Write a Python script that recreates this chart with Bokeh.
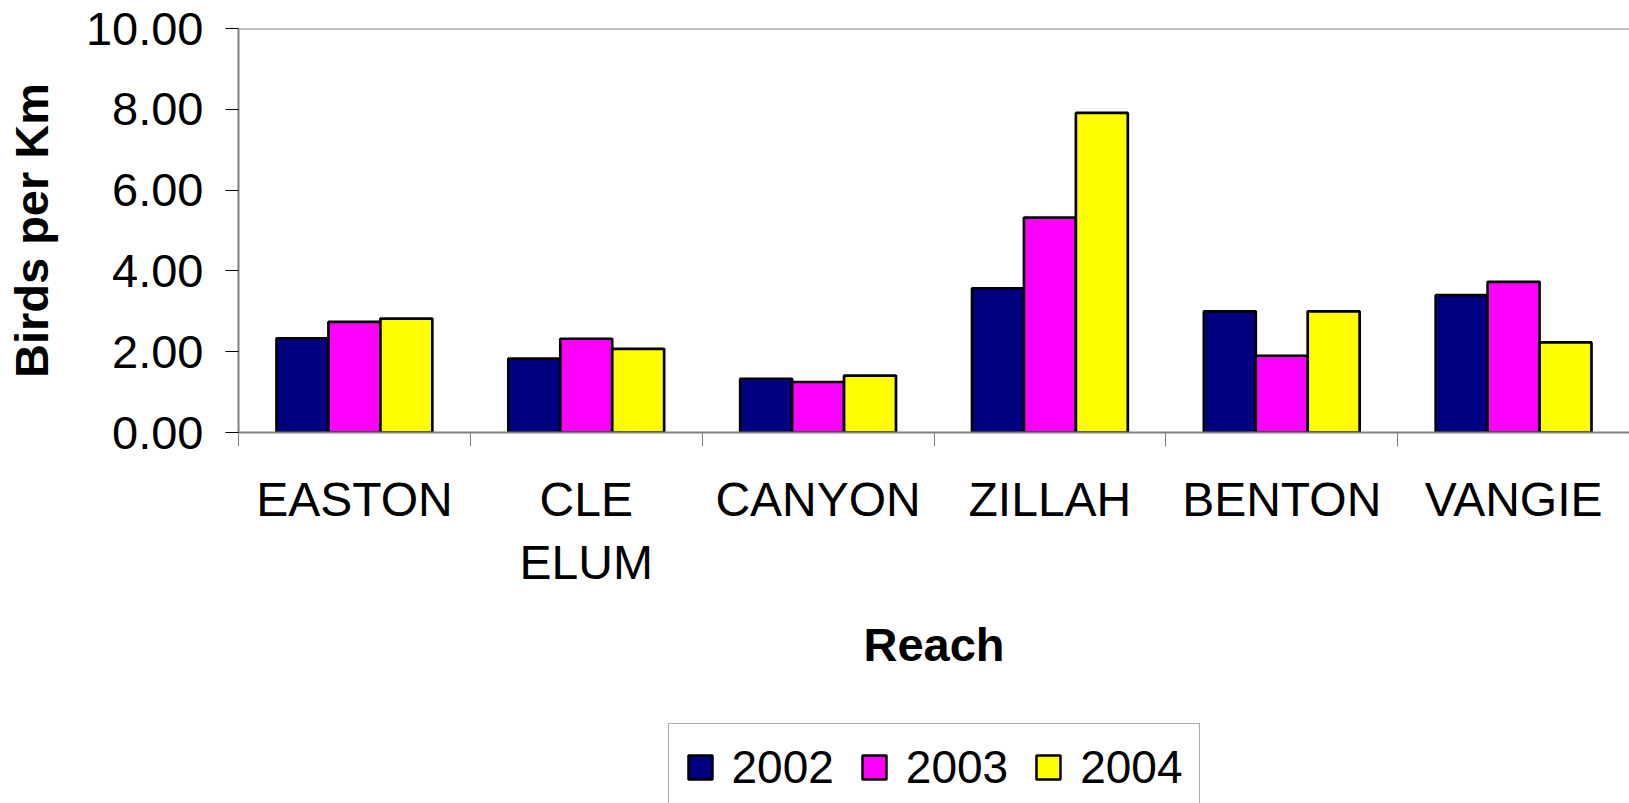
from bokeh.plotting import figure
from bokeh.layouts import column
from bokeh.models import (ColumnDataSource, FixedTicker, LinearAxis, Range1d, Span,
                          Legend, LegendItem, PrintfTickFormatter)
from bokeh.transform import dodge
from bokeh.embed import file_html
from bokeh.resources import INLINE

categories = ["EASTON", "CLE\nELUM", "CANYON", "ZILLAH", "BENTON", "VANGIE"]
years = ["2002", "2003", "2004"]
v2002 = [2.33, 1.83, 1.33, 3.57, 3.00, 3.40]
v2003 = [2.74, 2.32, 1.25, 5.32, 1.90, 3.73]
v2004 = [2.82, 2.07, 1.41, 7.91, 3.00, 2.23]
colors = ["#000080", "#FF00FF", "#FFFF00"]
y_ticks = [0, 2, 4, 6, 8, 10]

FONT = "Liberation Sans"

idx = list(range(len(categories)))
centers = [i + 0.5 for i in idx]
src = ColumnDataSource(dict(x=centers, v2002=v2002, v2003=v2003, v2004=v2004))

W = 1629
p = figure(width=W, height=700, output_backend="svg", toolbar_location=None,
           x_range=Range1d(0, len(categories)), y_range=Range1d(0, 10),
           min_border_left=238, min_border_right=0, min_border_top=28,
           min_border_bottom=268, x_axis_type=None, y_axis_type=None)
p.outline_line_color = None
p.background_fill_color = "white"
p.border_fill_color = "white"

# y axis
yaxis = LinearAxis(ticker=FixedTicker(ticks=y_ticks, minor_ticks=[]),
                   formatter=PrintfTickFormatter(format="%.2f"))
yaxis.axis_line_color = "#808080"
yaxis.axis_line_width = 2
yaxis.major_tick_line_color = "black"
yaxis.major_tick_out = 13
yaxis.major_tick_in = 0
yaxis.major_label_standoff = 22
yaxis.major_label_text_font = FONT
yaxis.major_label_text_font_size = "47px"
yaxis.major_label_text_color = "black"
yaxis.axis_label = "Birds per Km"
yaxis.axis_label_text_font = FONT
yaxis.axis_label_text_font_size = "47px"
yaxis.axis_label_text_font_style = "bold"
yaxis.axis_label_text_color = "black"
yaxis.axis_label_standoff = 25
p.add_layout(yaxis, "left")

# x axis: labels at category centres, tick marks at category boundaries
xaxis = LinearAxis(ticker=FixedTicker(ticks=centers,
                                      minor_ticks=[float(i) for i in range(len(categories) + 1)]))
xaxis.major_label_overrides = {pos: c for pos, c in zip(centers, categories)}
xaxis.axis_line_color = "#808080"
xaxis.axis_line_width = 2
xaxis.major_tick_out = 0
xaxis.major_tick_in = 0
xaxis.minor_tick_out = 14
xaxis.minor_tick_in = 0
xaxis.minor_tick_line_color = "#808080"
xaxis.minor_tick_line_width = 1
xaxis.major_label_standoff = 26
xaxis.major_label_text_font = FONT
xaxis.major_label_text_font_size = "48px"
xaxis.major_label_text_color = "black"
xaxis.axis_label = "Reach"
xaxis.axis_label_text_font = FONT
xaxis.axis_label_text_font_size = "47px"
xaxis.axis_label_text_font_style = "bold"
xaxis.axis_label_text_color = "black"
xaxis.axis_label_standoff = 26
p.add_layout(xaxis, "below")

p.ygrid.ticker = FixedTicker(ticks=y_ticks[1:-1])
p.ygrid.grid_line_color = "black"
p.ygrid.grid_line_width = 1
p.xgrid.visible = False

p.add_layout(Span(location=10, dimension="width", line_color="#808080", line_width=2))

bw = 0.224
for k, (yr, col) in enumerate(zip(years, colors)):
    p.vbar(x=dodge("x", (k - 1) * bw, range=p.x_range), top="v" + yr, width=bw,
           source=src, fill_color=col, line_color="black", line_width=2.7)

# legend strip below the chart; its proxy bars sit underneath the opaque legend box
pl = figure(width=W, height=103, output_backend="svg", toolbar_location=None,
            x_range=Range1d(0, 1), y_range=Range1d(0, 1),
            min_border_left=238, min_border_right=0, min_border_top=0,
            min_border_bottom=0, x_axis_type=None, y_axis_type=None)
pl.outline_line_color = None
pl.xgrid.visible = False
pl.ygrid.visible = False
proxy = ColumnDataSource(dict(x=[0.5], top=[0.5], bottom=[0.35]))
leg_renderers = []
for yr, col in zip(years, colors):
    r = pl.vbar(x="x", top="top", bottom="bottom", width=0.04, source=proxy,
                fill_color=col, line_color="black", line_width=2.5)
    leg_renderers.append(r)

legend = Legend(items=[LegendItem(label=yr, renderers=[r]) for yr, r in zip(years, leg_renderers)],
                location="top_center", orientation="horizontal")
legend.glyph_width = 30
legend.glyph_height = 30
legend.label_standoff = 17
legend.spacing = 25
legend.padding = 16
legend.margin = 23
legend.label_text_font = FONT
legend.label_text_font_size = "46px"
legend.label_text_color = "black"
legend.border_line_color = "#555555"
legend.border_line_width = 1
legend.background_fill_color = "white"
legend.background_fill_alpha = 1
pl.add_layout(legend, "center")

layout = column(p, pl, spacing=0)
open("out.html", "w").write(file_html(layout, INLINE))
